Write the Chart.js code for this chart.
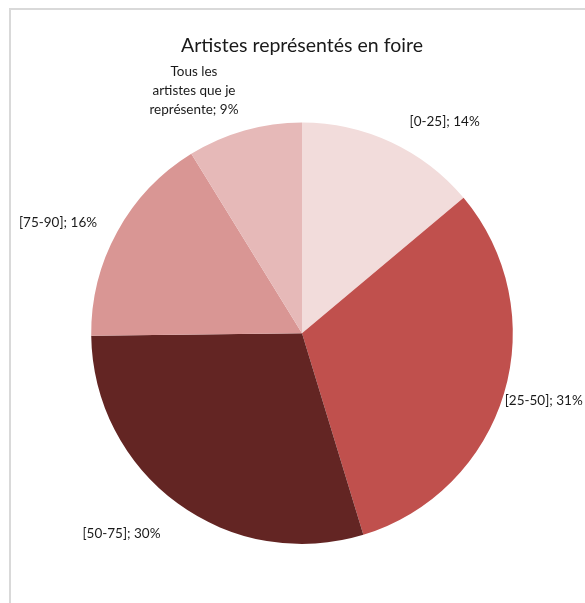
<!DOCTYPE html>
<html>
<head>
<meta charset="utf-8">
<script src="https://cdn.jsdelivr.net/npm/chart.js@4/dist/chart.umd.min.js"></script>
<style>
  body { margin: 0; width: 585px; height: 603px; overflow: hidden; background: #fff; position: relative; }
  #frame { position: absolute; left: 9px; top: 8px; width: 700px; height: 700px; border: 2px solid #d9d9d9; }
  #pie { position: absolute; left: 0; top: 0; }
</style>
</head>
<body>
<div id="frame"></div>
<canvas id="pie" width="585" height="603"></canvas>
<script>
const chartTitle = 'Artistes représentés en foire';
const categories = ['[0-25]', '[25-50]', '[50-75]', '[75-90]', 'Tous les artistes que je représente'];
// slice sizes (labels show them rounded)
const shares = [13.9, 31.4, 29.5, 16.4, 8.8];
const sliceColors = ['#f2dcdb', '#c0504d', '#632523', '#d99694', '#e6b9b8'];

const FONT = 'Lato, "Open Sans", sans-serif';

// where each data label sits: angle from top (deg, clockwise) and distance / radius
const labelSpots = [[34, 1.21], [105.5, 1.19], [222, 1.28], [294.3, 1.27], [336, 1.26]];

function wrap(ctx, text, maxW) {
    const words = text.split(' ');
    const lines = [];
    let cur = '';
    words.forEach(w => {
        const test = cur ? cur + ' ' + w : w;
        if (cur && ctx.measureText(test).width > maxW) {
            lines.push(cur);
            cur = w;
        } else {
            cur = test;
        }
    });
    lines.push(cur);
    return lines;
}

const outsideLabels = {
    id: 'outsideLabels',
    afterDraw(chart) {
        const ctx = chart.ctx;
        const arcs = chart.getDatasetMeta(0).data;
        const vals = chart.data.datasets[0].data;
        const total = vals.reduce((s, v) => s + v, 0);
        ctx.save();
        ctx.font = '13.5px ' + FONT;
        ctx.fillStyle = '#1a1a1a';
        ctx.textAlign = 'center';
        ctx.textBaseline = 'middle';
        arcs.forEach((arc, i) => {
            const [deg, k] = labelSpots[i];
            const a = deg * Math.PI / 180;
            const x = arc.x + Math.sin(a) * arc.outerRadius * k;
            const y = arc.y - Math.cos(a) * arc.outerRadius * k;
            const pct = Math.round(vals[i] / total * 100);
            const text = chart.data.labels[i] + '; ' + pct + '%';
            const lines = wrap(ctx, text, 92);
            const lh = 19;
            lines.forEach((ln, j) => {
                ctx.fillText(ln, x, y + (j - (lines.length - 1) / 2) * lh);
            });
        });
        ctx.restore();
    }
};

new Chart(document.getElementById('pie'), {
    type: 'pie',
    data: {
        labels: categories,
        datasets: [{
            data: shares,
            backgroundColor: sliceColors,
            borderWidth: 0
        }]
    },
    options: {
        responsive: false,
        animation: false,
        layout: { padding: { left: 91, right: 72, top: 0, bottom: 59 } },
        plugins: {
            legend: { display: false },
            tooltip: { enabled: false },
            title: {
                display: true,
                text: chartTitle,
                color: '#1a1a1a',
                font: { family: FONT, size: 19.5, weight: 'normal', lineHeight: 1.2 },
                padding: { top: 34, bottom: 65 }
            }
        }
    },
    plugins: [outsideLabels]
});
</script>
</body>
</html>
